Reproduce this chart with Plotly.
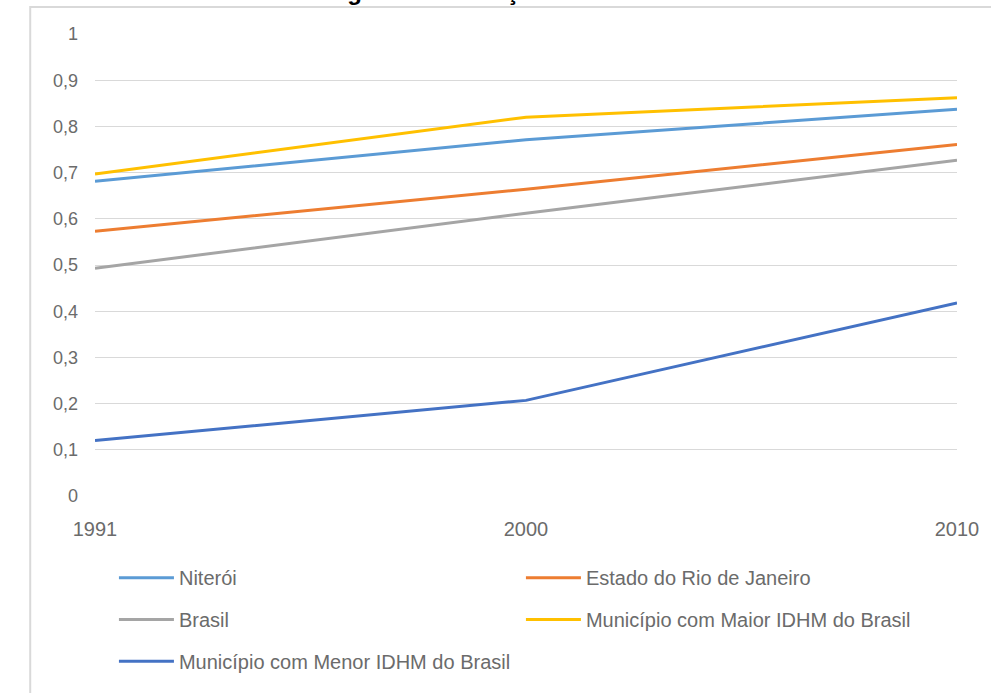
import plotly.graph_objects as go

# IDHM evolution, 1991-2010
anos = ["1991", "2000", "2010"]
niteroi = [0.681, 0.771, 0.837]
estado_rj = [0.573, 0.664, 0.761]
brasil = [0.493, 0.612, 0.727]
maior_idhm = [0.697, 0.820, 0.862]
menor_idhm = [0.120, 0.207, 0.418]

# (name, values, colour, legend box)
series = [
    ("Niterói", niteroi, "#5B9BD5", "legend"),
    ("Estado do Rio de Janeiro", estado_rj, "#ED7D31", "legend"),
    ("Brasil", brasil, "#A5A5A5", "legend2"),
    ("Município com Maior IDHM do Brasil", maior_idhm, "#FFC000", "legend2"),
    ("Município com Menor IDHM do Brasil", menor_idhm, "#4472C4", "legend3"),
]

y_ticks = [i / 10 for i in range(11)]
y_labels = ["0"] + [f"0,{i}" for i in range(1, 10)] + ["1"]

FONT = "Liberation Sans, Arial, sans-serif"
TXT = "#6b6b6b"

fig = go.Figure()
for name, vals, color, lg in series:
    fig.add_trace(go.Scatter(
        x=anos, y=vals, name=name, mode="lines",
        line=dict(color=color, width=3), legend=lg,
    ))

W, H = 991, 693
ML, MR, MT, MB = 95, 31, 34, 195
pw, ph = W - ML - MR, H - MT - MB


def px_x(p):
    return (p - ML) / pw


def px_y(p):
    return (H - MB - p) / ph


def legend_row(y_px):
    return dict(
        orientation="h", x=px_x(114), y=px_y(y_px), xanchor="left", yanchor="middle",
        entrywidth=337, entrywidthmode="pixels", itemwidth=55,
        font=dict(family=FONT, size=20, color=TXT),
        bgcolor="rgba(0,0,0,0)",
    )


fig.update_layout(
    width=W, height=H,
    margin=dict(l=ML, r=MR, t=MT, b=MB),
    paper_bgcolor="white", plot_bgcolor="white",
    font=dict(family=FONT, size=18, color=TXT),
    showlegend=True,
    legend=legend_row(580),
    legend2=legend_row(622),
    legend3=legend_row(664),
    xaxis=dict(
        type="category", range=[0, 2], showgrid=False, zeroline=False,
        showline=False, ticks="", tickfont=dict(size=20, color=TXT),
        ticklabelstandoff=19,
    ),
    yaxis=dict(
        range=[0, 1], tickvals=y_ticks, ticktext=y_labels,
        showgrid=True, gridcolor="#D9D9D9", gridwidth=1,
        zeroline=False, showline=False, ticks="",
        tickfont=dict(size=18, color=TXT),
        ticklabelstandoff=16,
    ),
    shapes=[dict(
        type="rect", xref="paper", yref="paper",
        x0=px_x(30), x1=px_x(1000), y0=px_y(705), y1=px_y(7),
        line=dict(color="#D9D9D9", width=2), fillcolor="rgba(0,0,0,0)",
        layer="below",
    )],
    annotations=[dict(
        text="<b>Figura 3 - Evolução do IDHM</b>", xref="paper", yref="paper",
        x=px_x(490), y=px_y(7), xanchor="center", yanchor="bottom",
        showarrow=False, font=dict(family=FONT, size=24, color="#000000"),
    )],
)

fig.write_html("out.html")
